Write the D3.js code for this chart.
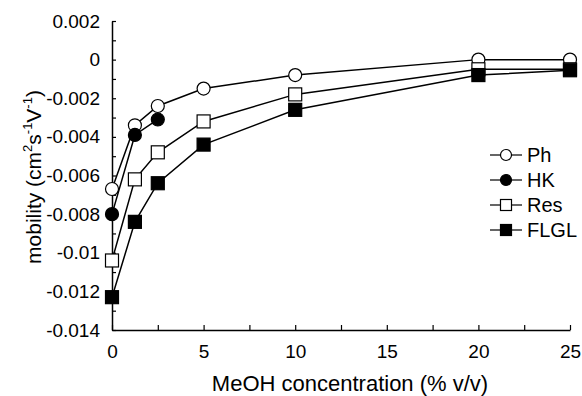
<!DOCTYPE html>
<html>
    <head>
        <meta charset="utf-8">
        <title>MeOH mobility</title>
        <script type="text/javascript" src="https://cdnjs.cloudflare.com/ajax/libs/d3/7.8.5/d3.min.js"></script>
    </head>
    <style>
        body { margin: 0; background: white; }
        text { font-family: "Liberation Sans", Arial, sans-serif; fill: black; }
    </style>
    <body>
    </body>
    <script type="text/javascript">
        //Width and height
        var w = 582;
        var h = 396;

        //data
        var meoh = [0, 1.25, 2.5, 5, 10, 20, 25];
        var ph   = [-0.0067, -0.0034, -0.0024, -0.0015, -0.0008, 0, 0];
        var hk   = [-0.0080, -0.0039, -0.0031];
        var res  = [-0.0104, -0.0062, -0.0048, -0.0032, -0.0018, -0.0005, -0.0005];
        var flgl = [-0.0123, -0.0084, -0.0064, -0.0044, -0.0026, -0.0008, -0.00055];

        var xTicks = [0, 5, 10, 15, 20, 25];
        var xMinor = [2.5, 7.5, 12.5, 17.5, 22.5];
        var yTicks = [0.002, 0, -0.002, -0.004, -0.006, -0.008, -0.01, -0.012, -0.014];
        var yTickLabels = ["0.002", "0", "-0.002", "-0.004", "-0.006", "-0.008", "-0.01", "-0.012", "-0.014"];
        var yMinor = [0.001, -0.001, -0.003, -0.005, -0.007, -0.009, -0.011, -0.013];

        var seriesNames = ["Ph", "HK", "Res", "FLGL"];
        var seriesValues = [ph, hk, res, flgl];
        var seriesShape = ["circle", "circle", "square", "square"];
        var seriesFill = ["white", "black", "white", "black"];

        var x = d3.scaleLinear().domain([0, 25]).range([112, 570]);
        var y = d3.scaleLinear().domain([-0.014, 0.002]).range([330, 21]);

        var svg = d3.select("body")
            .append("svg")
            .attr("width", w)
            .attr("height", h);

        //axes, ticks point inward
        svg.append("g")
            .attr("transform", "translate(0,330)")
            .call(d3.axisBottom(x).tickValues(xTicks).tickSize(-5).tickSizeOuter(0).tickPadding(15)
                .tickFormat(function(d) { return d; }));
        svg.append("g")
            .attr("transform", "translate(0,330)")
            .call(d3.axisBottom(x).tickValues(xMinor).tickSize(-5).tickSizeOuter(0).tickFormat(""))
            .select(".domain").remove();

        svg.append("g")
            .attr("transform", "translate(112,0)")
            .call(d3.axisLeft(y).tickValues(yTicks).tickSize(-4).tickSizeOuter(0).tickPadding(12)
                .tickFormat(function(d, i) { return yTickLabels[i]; }));
        svg.append("g")
            .attr("transform", "translate(112,0)")
            .call(d3.axisLeft(y).tickValues(yMinor).tickSize(-4).tickSizeOuter(0).tickFormat(""))
            .select(".domain").remove();

        svg.selectAll(".tick text").attr("font-size", "19px").attr("font-family", "Liberation Sans, Arial, sans-serif");
        svg.selectAll(".domain").attr("stroke-width", 1.5);
        svg.selectAll(".tick line").attr("stroke-width", 1.2);

        //axis titles
        svg.append("text")
            .attr("x", 350)
            .attr("y", 391)
            .attr("text-anchor", "middle")
            .attr("font-size", "22px")
            .text("MeOH concentration (% v/v)");

        var ylab = svg.append("text")
            .attr("transform", "translate(41,177) rotate(-90)")
            .attr("text-anchor", "middle")
            .attr("font-size", "21px");
        ylab.append("tspan").text("mobility (cm");
        ylab.append("tspan").attr("font-size", "13px").attr("dy", -9).text("2");
        ylab.append("tspan").attr("dy", 9).text("s");
        ylab.append("tspan").attr("font-size", "13px").attr("dy", -9).text("-1");
        ylab.append("tspan").attr("dy", 9).text("V");
        ylab.append("tspan").attr("font-size", "13px").attr("dy", -9).text("-1");
        ylab.append("tspan").attr("dy", 9).text(")");

        var line = d3.line()
            .x(function(d) { return x(d[0]); })
            .y(function(d) { return y(d[1]); });

        function drawMarker(g, shape, fill, cx, cy, size) {
            if (shape == "circle") {
                g.append("circle")
                    .attr("cx", cx).attr("cy", cy).attr("r", size / 2)
                    .attr("fill", fill).attr("stroke", "black").attr("stroke-width", 1.2);
            } else {
                g.append("rect")
                    .attr("x", cx - size / 2).attr("y", cy - size / 2)
                    .attr("width", size).attr("height", size)
                    .attr("fill", fill).attr("stroke", "black").attr("stroke-width", 1.2);
            }
        }

        //series: line then markers, in order so squares sit over circles
        seriesValues.forEach(function(vals, s) {
            var pts = vals.map(function(v, i) { return [meoh[i], v]; });
            var g = svg.append("g");
            g.append("path")
                .attr("d", line(pts))
                .attr("fill", "none")
                .attr("stroke", "black")
                .attr("stroke-width", 1.5);
            pts.forEach(function(p) {
                drawMarker(g, seriesShape[s], seriesFill[s], x(p[0]), y(p[1]), 13);
            });
        });

        //legend
        var legend = svg.append("g");
        seriesNames.forEach(function(name, s) {
            var ly = 155 + s * 25;
            legend.append("line")
                .attr("x1", 490).attr("x2", 522)
                .attr("y1", ly).attr("y2", ly)
                .attr("stroke", "black").attr("stroke-width", 1.2);
            drawMarker(legend, seriesShape[s], seriesFill[s], 506, ly, 11);
            legend.append("text")
                .attr("x", 527)
                .attr("y", ly + 7)
                .attr("font-size", "20px")
                .text(name);
        });
    </script>
</html>
